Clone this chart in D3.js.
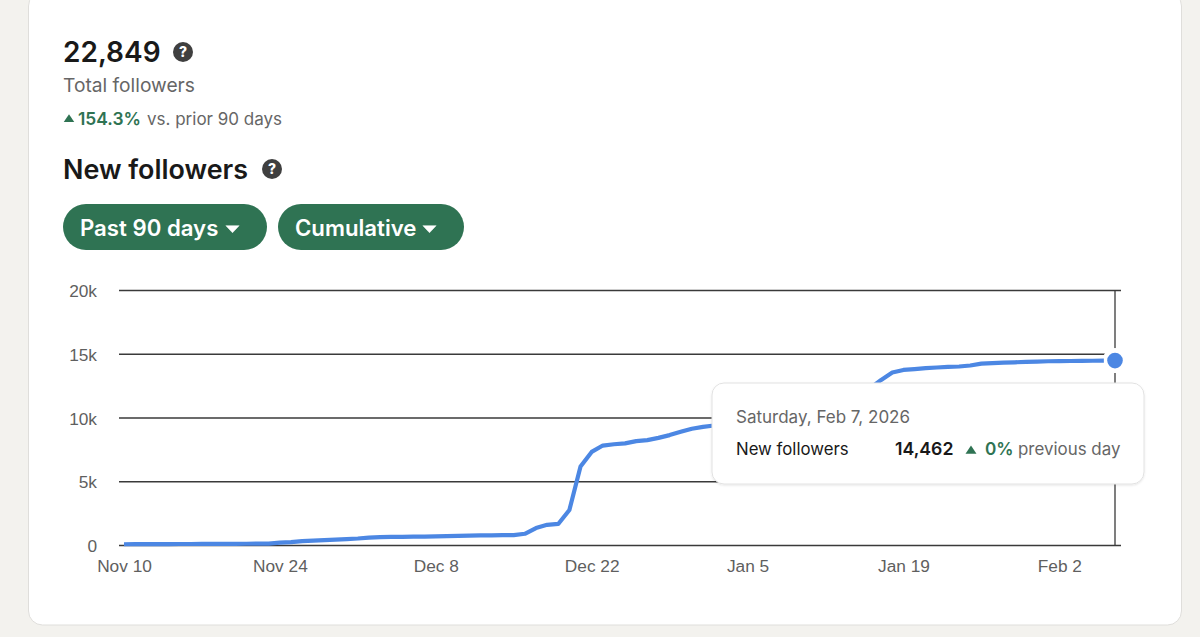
<!DOCTYPE html>
<html>
<head>
<meta charset="utf-8">
<script src="https://cdn.jsdelivr.net/npm/d3@7"></script>
<style>
  html, body { margin: 0; padding: 0; background: #f3f2ee; overflow: hidden; }
  svg { display: block; font-family: Inter, "Liberation Sans", sans-serif; }
  .tick text { font-size: 17.3px; fill: #5f5f5f; }
  .y-axis .tick text { transform: translateY(1px); }
  .domain { display: none; }
</style>
</head>
<body>
<svg width="1200" height="637"></svg>
<script>
// followers per day, Nov 10 2025 -> Feb 7 2026
var startDate = "2025-11-10";
var followers = [
  60, 65, 70, 70, 75, 80, 80, 85, 90, 90,
  95, 100, 105, 110, 190, 220, 300, 350, 390, 420,
  460, 510, 580, 610, 630, 640, 650, 655, 670, 690,
  710, 730, 750, 760, 770, 775, 880, 1330, 1580, 1650,
  2750, 6150, 7300, 7800, 7900, 7970, 8150, 8230, 8400, 8620,
  8880, 9120, 9270, 9370, 9450, 9520, 9600, 9680, 9750, 9850,
  9950, 10100, 10300, 10500, 10800, 11300, 11800, 12300, 12950, 13530,
  13730, 13800, 13870, 13920, 13970, 14000, 14080, 14230, 14270, 14300,
  14330, 14370, 14390, 14410, 14420, 14430, 14440, 14450, 14455, 14462
];
var yTicks = [0, 5000, 10000, 15000, 20000];
var yTickLabels = ["0", "5k", "10k", "15k", "20k"];
var xTicks = ["2025-11-10", "2025-11-24", "2025-12-08", "2025-12-22", "2026-01-05", "2026-01-19", "2026-02-02"];
var xTickLabels = ["Nov 10", "Nov 24", "Dec 8", "Dec 22", "Jan 5", "Jan 19", "Feb 2"];

var green = "#2f7353";
var blue = "#4c87e3";

var parse = d3.utcParse("%Y-%m-%d");
var dates = followers.map(function (d, i) { return d3.utcDay.offset(parse(startDate), i); });

var svg = d3.select("svg");

// card
svg.append("rect")
    .attr("x", 28.5).attr("y", -8)
    .attr("width", 1153).attr("height", 633)
    .attr("rx", 14)
    .attr("fill", "#fff")
    .attr("stroke", "#dfdedb");

var defs = svg.append("defs");
var shadow = defs.append("filter").attr("id", "shadow")
    .attr("x", "-5%").attr("y", "-10%").attr("width", "110%").attr("height", "125%");
shadow.append("feDropShadow")
    .attr("dx", 0).attr("dy", 1).attr("stdDeviation", 1)
    .attr("flood-color", "#000").attr("flood-opacity", 0.1);

function label(x, y, str, size, weight, color) {
    return svg.append("text")
        .attr("x", x).attr("y", y)
        .attr("font-size", size)
        .attr("font-weight", weight)
        .attr("fill", color)
        .text(str);
}

function helpIcon(x, y) {
    svg.append("circle").attr("cx", x).attr("cy", y).attr("r", 10).attr("fill", "#3f3f3f");
    svg.append("text").attr("x", x).attr("y", y + 5)
        .attr("text-anchor", "middle")
        .attr("font-size", 14).attr("font-weight", 800).attr("fill", "#fff")
        .text("?");
}

function triangle(x, y, size, color) {
    svg.append("path")
        .attr("d", d3.symbol(d3.symbolTriangle, size))
        .attr("transform", "translate(" + x + "," + y + ") scale(1,0.85)")
        .attr("fill", color);
}

// the flat caret on the buttons
function caret(x, y) {
    svg.append("path")
        .attr("d", d3.symbol(d3.symbolTriangle, 76))
        .attr("transform", "translate(" + x + "," + y + ") rotate(180) scale(1,0.62)")
        .attr("fill", "#fff")
        .attr("stroke", "#fff")
        .attr("stroke-width", 0.6)
        .attr("stroke-linejoin", "round");
}

// header
label(63, 62, "22,849", 28, 600, "#191919");
helpIcon(183, 52);
label(63, 92, "Total followers", 19.2, 400, "#666");
triangle(69, 119.5, 48, green);
label(78, 125, "154.3%", 17.4, 600, green);
label(147, 125, "vs. prior 90 days", 17, 400, "#666");
label(63, 179, "New followers", 26.9, 600, "#191919");
helpIcon(272, 169);

// filter buttons
[["Past 90 days", 63, 204, 80, 232.5], ["Cumulative", 278, 186, 295, 429.5]].forEach(function (b) {
    svg.append("rect")
        .attr("x", b[1]).attr("y", 204)
        .attr("width", b[2]).attr("height", 46)
        .attr("rx", 23)
        .attr("fill", green);
    label(b[3], 236, b[0], 22.2, 600, "#fff");
    caret(b[4], 228);
});

// chart
var x = d3.scaleUtc()
    .domain([dates[0], dates[dates.length - 1]])
    .range([124, 1115]);

var y = d3.scaleLinear()
    .domain([0, 20000])
    .range([545, 290]);

var yAxis = d3.axisLeft(y)
    .tickValues(yTicks)
    .tickFormat(function (d, i) { return yTickLabels[i]; })
    .tickSize(-1002)
    .tickPadding(22);

svg.append("g")
    .attr("class", "y-axis")
    .attr("transform", "translate(119,0)")
    .call(yAxis)
    .call(function (g) {
        g.selectAll("line").attr("stroke", "#3a3a3a").attr("stroke-width", 1.3);
    });

var xAxis = d3.axisBottom(x)
    .tickValues(xTicks.map(parse))
    .tickFormat(function (d, i) { return xTickLabels[i]; })
    .tickSize(0)
    .tickPadding(15);

svg.append("g")
    .attr("class", "x-axis")
    .attr("transform", "translate(0,545)")
    .call(xAxis);

// hover line
var last = followers.length - 1;
svg.append("line")
    .attr("x1", x(dates[last])).attr("x2", x(dates[last]))
    .attr("y1", y(20000)).attr("y2", y(0))
    .attr("stroke", "#3a3a3a").attr("stroke-width", 1.3);

svg.append("circle")
    .attr("cx", x(dates[last])).attr("cy", y(followers[last]))
    .attr("r", 12.5)
    .attr("fill", "#fff");

var line = d3.line()
    .x(function (d, i) { return x(dates[i]); })
    .y(function (d) { return y(d); });

svg.append("path")
    .datum(followers.slice(0, last))
    .attr("d", line)
    .attr("fill", "none")
    .attr("stroke", blue)
    .attr("stroke-width", 4.2)
    .attr("stroke-linejoin", "round");

svg.append("circle")
    .attr("cx", x(dates[last])).attr("cy", y(followers[last]))
    .attr("r", 7.8)
    .attr("fill", blue);

// tooltip
svg.append("rect")
    .attr("x", 712).attr("y", 383)
    .attr("width", 432).attr("height", 101)
    .attr("rx", 12)
    .attr("fill", "#fff")
    .attr("stroke", "#e2e2e2")
    .attr("filter", "url(#shadow)");

label(736, 423, "Saturday, Feb 7, 2026", 17, 400, "#666");
label(736, 455, "New followers", 16.8, 400, "#191919");
label(895, 455, d3.format(",")(followers[last]), 17.7, 600, "#191919");
triangle(971, 451, 52, green);
label(985, 455, "0%", 17.2, 600, green);
label(1018, 455, "previous day", 16.9, 400, "#666");
</script>
</body>
</html>
